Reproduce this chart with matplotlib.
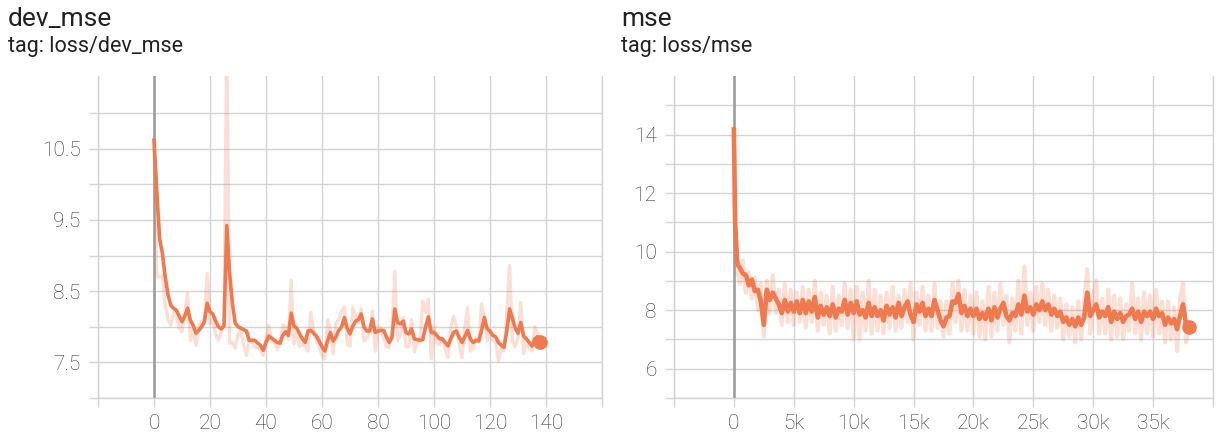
import matplotlib
matplotlib.use('Agg')
import matplotlib.pyplot as plt
from matplotlib.ticker import FuncFormatter

plt.rcParams['font.family'] = ['Roboto', 'DejaVu Sans']

LINE = '#ef7a4f'
GRID = '#d4d4d4'

# ---- dev_mse (loss/dev_mse), one point per epoch ----
dev_steps = list(range(139))
dev_smooth = [
    10.62, 9.9, 9.24, 9.03, 8.70, 8.45, 8.30, 8.26, 8.23, 8.15,
    8.07, 8.15, 8.26, 8.09, 8.02, 7.91, 7.95, 8.00, 8.07, 8.33,
    8.21, 8.18, 8.08, 8.00, 7.97, 8.01, 9.42, 8.75, 8.33, 8.05,
    8.00, 7.98, 7.96, 7.94, 7.81, 7.81, 7.81, 7.77, 7.74, 7.67,
    7.78, 7.87, 7.84, 7.81, 7.78, 7.77, 7.88, 7.93, 7.88, 8.19,
    8.01, 7.98, 7.90, 7.83, 7.78, 7.94, 7.95, 7.91, 7.87, 7.80,
    7.72, 7.66, 7.80, 7.92, 7.80, 7.86, 7.95, 8.00, 8.13, 7.98,
    7.90, 8.01, 8.08, 8.10, 8.18, 8.00, 7.94, 7.94, 8.11, 7.92,
    7.94, 7.95, 7.95, 7.86, 7.78, 7.85, 8.25, 8.06, 8.04, 8.08,
    7.92, 7.90, 7.97, 7.83, 7.82, 7.81, 7.82, 8.00, 8.14, 7.92,
    7.92, 7.88, 7.83, 7.83, 7.78, 7.73, 7.83, 7.92, 7.94, 7.85,
    7.78, 7.86, 7.95, 7.83, 7.78, 7.81, 7.80, 7.95, 8.13, 7.97,
    7.94, 7.88, 7.86, 7.78, 7.74, 7.71, 7.94, 8.25, 8.12, 7.98,
    7.91, 8.06, 7.87, 7.83, 7.78, 7.73, 7.83, 7.86, 7.79,
]
dev_raw = [
    10.62, 8.70, 8.70, 8.72, 8.30, 8.10, 8.02, 8.20, 8.15, 7.98,
    7.93, 8.20, 8.47, 7.81, 7.95, 7.74, 8.00, 8.08, 8.10, 8.75,
    8.05, 8.10, 7.90, 7.81, 7.92, 8.05, 12.20, 7.77, 7.78, 7.70,
    7.90, 7.95, 7.75, 7.60, 7.80, 7.78, 7.72, 7.70, 7.68, 7.60,
    7.85, 8.02, 7.80, 7.78, 7.68, 7.75, 8.02, 8.00, 7.82, 8.65,
    7.76, 7.90, 7.72, 7.76, 7.72, 7.66, 8.20, 7.95, 7.80, 7.72,
    7.60, 7.55, 8.10, 7.95, 7.62, 8.05, 8.10, 8.22, 8.27, 7.75,
    7.73, 8.27, 8.15, 8.05, 8.25, 7.80, 7.85, 7.90, 8.22, 7.66,
    8.00, 7.98, 7.85, 7.72, 7.71, 7.95, 8.78, 7.80, 7.90, 8.13,
    7.72, 7.72, 8.10, 7.65, 7.78, 7.80, 8.36, 8.20, 8.39, 7.55,
    8.00, 7.78, 7.75, 7.85, 7.68, 7.57, 8.00, 8.15, 8.00, 7.75,
    7.57, 8.00, 8.27, 7.66, 7.72, 7.85, 7.78, 8.32, 8.10, 7.80,
    7.95, 7.80, 7.80, 7.52, 7.70, 7.66, 8.20, 8.86, 7.80, 7.72,
    7.85, 8.34, 7.62, 7.78, 7.70, 7.66, 8.00, 7.90, 7.70,
]

# ---- mse (loss/mse), training steps ----
mse_steps = [0, 100, 200, 300, 400] + list(range(500, 38001, 250))
mse_smooth = [
    14.17, 11.1, 10.2, 9.6, 9.5,
    9.45, 9.25,
    9.2, 8.85, 9.05, 8.65,   8.7, 8.3, 7.5, 8.7,       8.35, 8.6, 8.4, 8.2,
    7.9, 8.35, 7.95, 8.25,   7.95, 8.3, 7.9, 8.35,     7.9, 8.3, 7.95, 8.45,
    7.75, 8.15, 7.85, 8.1,   7.8, 8.2, 7.75, 8.05,     7.95, 8.35, 7.85, 8.25,
    7.9, 8.3, 7.85, 8.0,     7.75, 8.25, 7.8, 8.1,     7.8, 8.0, 7.65, 8.15,
    7.85, 8.1, 7.75, 8.25,   7.8, 8.1, 8.3, 7.85,      7.6, 8.2, 7.95, 8.25,
    7.8, 8.05, 7.8, 8.35,    8.0, 7.65, 7.45, 7.75,    7.8, 8.3, 8.25, 8.55,
    7.9, 8.15, 7.8, 8.05,    7.8, 8.05, 7.7, 7.9,      7.7, 8.05, 7.65, 8.1,
    7.75, 8.05, 8.25, 7.8,   7.65, 7.9, 7.8, 8.2,      7.85, 8.5, 7.95, 8.1,
    7.85, 8.2, 8.0, 8.3,     8.0, 8.2, 7.85, 8.05,     7.8, 7.95, 7.6, 7.75,
    7.5, 7.7, 7.45, 7.75,    7.5, 7.75, 8.6, 7.8,      8.0, 8.2, 7.75, 7.95,
    7.8, 8.1, 7.6, 7.95,     7.7, 7.9, 7.6, 7.8,       7.85, 8.05, 7.7, 7.95,
    7.6, 7.95, 7.8, 7.95,    7.7, 8.05, 7.8, 7.9,      7.5, 7.75, 7.55, 7.7,
    7.35, 7.8, 8.2, 7.5,
    7.43,
]
mse_raw = [
    14.17, 10.2, 9.6, 9.2, 9.3,
    8.9, 9.7,
    8.6, 9.3, 8.4, 9.1,      8.0, 8.9, 7.1, 9.0,       7.9, 9.2, 7.9, 8.7,
    7.5, 8.9, 7.6, 8.7,      7.5, 8.6, 7.6, 8.8,       7.4, 8.7, 7.6, 9.0,
    7.3, 8.6, 7.5, 8.5,      7.2, 8.8, 7.3, 8.5,       7.5, 8.9, 7.4, 8.7,
    7.0, 8.8, 7.0, 8.6,      7.3, 9.0, 7.2, 8.7,       7.3, 8.5, 7.2, 8.6,
    7.4, 8.8, 7.3, 8.5,      7.4, 8.7, 7.6, 8.9,       7.0, 8.6, 7.5, 8.8,
    7.3, 8.5, 7.3, 8.9,      7.4, 8.3, 7.1, 8.3,       7.2, 8.9, 7.6, 9.0,
    7.3, 8.7, 7.3, 8.5,      7.2, 8.6, 7.1, 8.3,       7.0, 8.8, 7.1, 8.6,
    7.3, 8.9, 7.5, 8.5,      6.9, 8.4, 7.3, 9.0,       7.2, 9.5, 7.5, 8.6,
    7.3, 8.8, 7.6, 8.9,      7.5, 8.7, 7.3, 8.5,       7.4, 8.4, 7.0, 8.2,
    7.1, 8.1, 6.9, 8.3,      7.0, 8.3, 9.4, 7.2,       8.5, 9.0, 7.2, 8.4,
    7.2, 8.7, 7.0, 8.5,      7.1, 8.4, 7.0, 8.2,       7.3, 8.9, 7.2, 8.4,
    7.0, 8.6, 7.2, 8.5,      7.1, 8.7, 7.2, 8.3,       6.9, 8.3, 7.0, 8.1,
    6.6, 8.4, 8.9, 6.9,
    7.43,
]


def style(ax, xmajor, xminor, ymajor, yminor, xlim, ylim):
    ax.set_xlim(xlim)
    ax.set_ylim(ylim)
    ax.set_xticks(xmajor)
    ax.set_xticks(xminor, minor=True)
    ax.set_yticks(ymajor)
    ax.set_yticks(yminor, minor=True)
    for side, sp in ax.spines.items():
        sp.set_visible(side != 'top')
        sp.set_color(GRID)
        sp.set_linewidth(1.0)
    ax.grid(True, which='both', color=GRID, lw=1.0)
    ax.set_axisbelow(True)
    ax.tick_params(which='both', length=6.5, width=1.0, color=GRID,
                   labelsize=15, labelcolor='#333333')
    ax.tick_params(axis='x', which='both', pad=5)
    ax.tick_params(axis='y', which='both', pad=6)
    ax.axvline(0, color='#9a9a9a', lw=1.8, zorder=1)


def light_labels(ax):
    for lab in ax.get_xticklabels() + ax.get_yticklabels():
        lab.set_fontweight('light')


def draw(ax, x, raw, smooth, lw_raw, lw_smooth):
    ax.plot(x, raw, color=LINE, alpha=0.24, lw=lw_raw, zorder=2,
            solid_joinstyle='round')
    ax.plot(x, smooth, color=LINE, lw=lw_smooth, zorder=3,
            solid_joinstyle='round')
    ax.plot(x[-1], smooth[-1], 'o', color=LINE, ms=9.5, zorder=4)


fig = plt.figure(figsize=(12.28, 4.48), dpi=100)
ax1 = fig.add_axes([98 / 1228, 50 / 448, 504 / 1228, 322 / 448])
ax2 = fig.add_axes([674 / 1228, 50 / 448, 539 / 1228, 322 / 448])

style(ax1, list(range(0, 141, 20)), [-20, 160], [7.5, 8.5, 9.5, 10.5],
      [7, 8, 9, 10, 11], (-20, 160), (7.0, 11.52))
light_labels(ax1)
draw(ax1, dev_steps, dev_raw, dev_smooth, 2.4, 2.6)

style(ax2, list(range(0, 35001, 5000)), [-5000, 40000], [6, 8, 10, 12, 14],
      [5, 7, 9, 11, 13, 15], (-5000, 40000), (5, 16))
ax2.xaxis.set_major_formatter(
    FuncFormatter(lambda v, p: '0' if v == 0 else f'{int(v / 1000)}k'))
light_labels(ax2)
draw(ax2, mse_steps, mse_raw, mse_smooth, 3.0, 3.3)

fig.text(8 / 1228, 1 - 26 / 448, 'dev_mse', fontsize=19, color='#212121',
         va='baseline')
fig.text(8 / 1228, 1 - 52 / 448, 'tag: loss/dev_mse', fontsize=15.5,
         color='#212121', va='baseline')
fig.text(621 / 1228, 1 - 26 / 448, 'mse', fontsize=19, color='#212121',
         va='baseline')
fig.text(621 / 1228, 1 - 52 / 448, 'tag: loss/mse', fontsize=15.5,
         color='#212121', va='baseline')

fig.savefig('out.png', dpi=100)
